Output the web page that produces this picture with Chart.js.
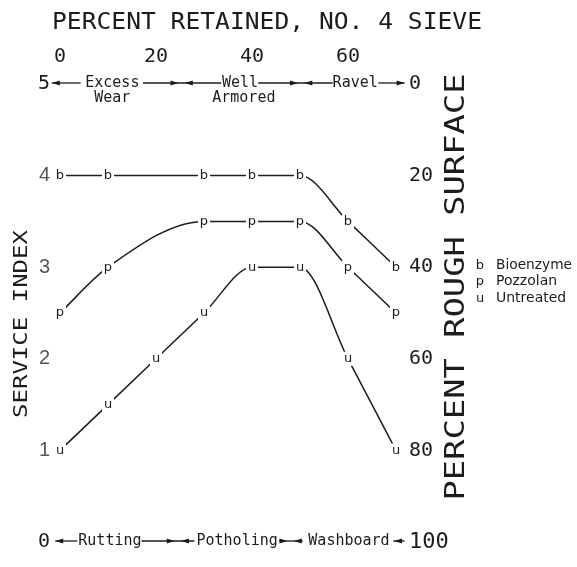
<!DOCTYPE html>
<html>
<head>
<meta charset="utf-8">
<script src="https://cdn.jsdelivr.net/npm/chart.js@4.4.1/dist/chart.umd.min.js"></script>
<style>
  html, body { margin: 0; padding: 0; background: #fff; }
</style>
</head>
<body>
<canvas id="chart" width="577" height="567"></canvas>
<script>
// Data
const sieveRetained = [0, 10, 20, 30, 40, 50, 60, 70];      // percent retained, No. 4 sieve
const bioenzyme = [4, 4, null, 4, 4, 4, 3.5, 3];
const pozzolan  = [2.5, 3, null, 3.5, 3.5, 3.5, 3, 2.5];
const untreated = [1, 1.5, 2, 2.5, 3, 3, 2, 1];

const seriesNames = ['Bioenzyme', 'Pozzolan', 'Untreated'];
const seriesMarks = ['b', 'p', 'u'];

const sieveTicks = [0, 20, 40, 60];
const indexTicks = [0, 1, 2, 3, 4, 5];
const roughTicks = [0, 20, 40, 60, 80, 100];

const topBand = ['Excess', 'Well', 'Ravel'];
const topBandSub = ['Wear', 'Armored', ''];
const bottomBand = ['Rutting', 'Potholing', 'Washboard'];

const ink = '#1c1c1c';
const mono = '"DejaVu Sans Mono", monospace';

function toPoints(values) {
    return sieveRetained.map((x, i) => ({ x: x, y: values[i] }));
}

function tickValue(c) {
    return c && c.tick ? c.tick.value : null;
}

// small filled arrow head, dir = 1 points right, -1 points left
function arrowHead(ctx, x, y, dir) {
    ctx.beginPath();
    ctx.moveTo(x, y);
    ctx.lineTo(x - dir * 8, y - 2.5);
    ctx.lineTo(x - dir * 8, y + 2.5);
    ctx.closePath();
    ctx.fill();
}

function segment(ctx, x1, x2, y) {
    ctx.beginPath();
    ctx.moveTo(x1, y);
    ctx.lineTo(x2, y);
    ctx.stroke();
}

// text stretched to a given length, optionally rotated
function stretchedText(ctx, text, x, y, length, font, rotation) {
    ctx.save();
    ctx.translate(x, y);
    ctx.rotate(rotation || 0);
    ctx.font = font;
    const w = ctx.measureText(text).width;
    ctx.scale(length / w, 1);
    ctx.textAlign = 'center';
    ctx.textBaseline = 'middle';
    ctx.fillText(text, 0, 0);
    ctx.restore();
}

const paperPlugin = {
    id: 'paper',
    afterDatasetsDraw(chart) {
        const ctx = chart.ctx;
        ctx.save();
        chart.data.datasets.forEach((ds, i) => {
            const meta = chart.getDatasetMeta(i);
            meta.data.forEach((pt, j) => {
                if (ds.data[j].y == null) return;
                ctx.fillStyle = '#fff';
                ctx.fillRect(pt.x - 6, pt.y - 7, 12, 14);
                ctx.fillStyle = ink;
                ctx.font = '13px "DejaVu Sans"';
                ctx.textAlign = 'center';
                ctx.textBaseline = 'middle';
                ctx.fillText(seriesMarks[i], pt.x, pt.y);
            });
        });
        ctx.restore();
    },
    afterDraw(chart) {
        const ctx = chart.ctx;
        const sx = chart.scales.x;
        const sy = chart.scales.y;
        const sr = chart.scales.y2;
        const px = v => sx.getPixelForValue(v);
        ctx.save();
        ctx.fillStyle = ink;
        ctx.strokeStyle = ink;
        ctx.lineWidth = 1.3;

        // titles
        stretchedText(ctx, 'PERCENT RETAINED, NO. 4 SIEVE', 267, 23, 430, '23px ' + mono, 0);
        stretchedText(ctx, 'SERVICE INDEX', 22, 324, 188, '20px ' + mono, -Math.PI / 2);
        stretchedText(ctx, 'PERCENT ROUGH SURFACE', 457, 287, 427, '26px ' + mono, -Math.PI / 2);

        // top band (service index 5 / rough surface 0)
        const yt = sy.getPixelForValue(5) - 1;
        ctx.font = '15px ' + mono;
        ctx.textAlign = 'center';
        ctx.textBaseline = 'middle';
        arrowHead(ctx, px(-1.7), yt, -1);
        segment(ctx, px(-1.7), px(4.3), yt);
        ctx.fillText(topBand[0], px(10.9), yt);
        ctx.fillText(topBandSub[0], px(10.9), yt + 15);
        segment(ctx, px(17.3), px(33.6), yt);
        arrowHead(ctx, px(24.7), yt, 1);
        arrowHead(ctx, px(26.0), yt, -1);
        ctx.fillText(topBand[1], px(37.5), yt);
        ctx.fillText(topBandSub[1], px(38.3), yt + 15);
        segment(ctx, px(41.3), px(56.8), yt);
        arrowHead(ctx, px(49.6), yt, 1);
        arrowHead(ctx, px(50.9), yt, -1);
        ctx.fillText(topBand[2], px(61.5), yt);
        segment(ctx, px(66.3), px(71.8), yt);
        arrowHead(ctx, px(71.8), yt, 1);

        // bottom band (service index 0 / rough surface 100)
        const yb = sy.getPixelForValue(0) - 1;
        arrowHead(ctx, px(-1.0), yb, -1);
        segment(ctx, px(-1.0), px(3.6), yb);
        ctx.fillText(bottomBand[0], px(10.4), yb);
        segment(ctx, px(17.0), px(28.0), yb);
        arrowHead(ctx, px(23.9), yb, 1);
        arrowHead(ctx, px(25.2), yb, -1);
        ctx.fillText(bottomBand[1], px(36.9), yb);
        arrowHead(ctx, px(47.4), yb, 1);
        arrowHead(ctx, px(48.7), yb, -1);
        segment(ctx, px(45.6), px(50.6), yb);
        ctx.fillText(bottomBand[2], px(60.2), yb);
        segment(ctx, px(69.4), px(71.8), yb);
        arrowHead(ctx, px(69.6), yb, -1);

        // legend beside the right axis
        const ly = sr.getPixelForValue(40) - 2;
        seriesNames.forEach((name, i) => {
            const y = ly + i * 16.5;
            ctx.textAlign = 'center';
            ctx.font = '13px "DejaVu Sans"';
            ctx.fillText(seriesMarks[i], 480, y);
            ctx.textAlign = 'left';
            ctx.font = '14px "DejaVu Sans"';
            ctx.fillText(name, 496, y, 76);
        });
        ctx.restore();
    }
};

const lineStyle = {
    borderColor: ink,
    borderWidth: 1.5,
    pointRadius: 0,
    fill: false,
    spanGaps: true,
    cubicInterpolationMode: 'monotone'
};

new Chart(document.getElementById('chart').getContext('2d'), {
    type: 'line',
    data: {
        datasets: [
            { label: seriesNames[0], data: toPoints(bioenzyme), ...lineStyle },
            { label: seriesNames[1], data: toPoints(pozzolan), ...lineStyle },
            { label: seriesNames[2], data: toPoints(untreated), ...lineStyle }
        ]
    },
    options: {
        responsive: false,
        animation: false,
        devicePixelRatio: 1,
        layout: { padding: { top: 0, left: 0, right: 0, bottom: 7 } },
        plugins: {
            legend: { display: false },
            tooltip: { enabled: false }
        },
        scales: {
            x: {
                type: 'linear',
                position: 'top',
                min: 0,
                max: 70,
                afterBuildTicks: s => { s.ticks = sieveTicks.map(v => ({ value: v })); },
                afterFit: s => { s.height = 84; },
                grid: { display: false, drawTicks: false },
                border: { display: false },
                ticks: { padding: 15, color: ink, font: { family: mono, size: 20 } }
            },
            y: {
                type: 'linear',
                position: 'left',
                min: 0,
                max: 5,
                afterBuildTicks: s => { s.ticks = indexTicks.map(v => ({ value: v })); },
                afterFit: s => { s.width = 60; },
                grid: { display: false, drawTicks: false },
                border: { display: false },
                ticks: {
                    padding: 10,
                    color: c => {
                        const v = tickValue(c);
                        return (v === 0 || v === 5) ? ink : '#555';
                    },
                    font: c => {
                        const v = tickValue(c);
                        return (v === 1 || v === 2 || v === 3 || v === 4)
                            ? { family: '"Liberation Sans"', size: 20 }
                            : { family: mono, size: 20 };
                    }
                }
            },
            y2: {
                type: 'linear',
                position: 'right',
                min: 0,
                max: 100,
                reverse: true,
                afterBuildTicks: s => { s.ticks = roughTicks.map(v => ({ value: v })); },
                afterFit: s => { s.width = 181; },
                grid: { display: false, drawTicks: false },
                border: { display: false },
                ticks: {
                    padding: 13,
                    color: ink,
                    font: c => ({ family: mono, size: tickValue(c) === 100 ? 22 : 20 })
                }
            }
        }
    },
    plugins: [paperPlugin]
});
</script>
</body>
</html>
